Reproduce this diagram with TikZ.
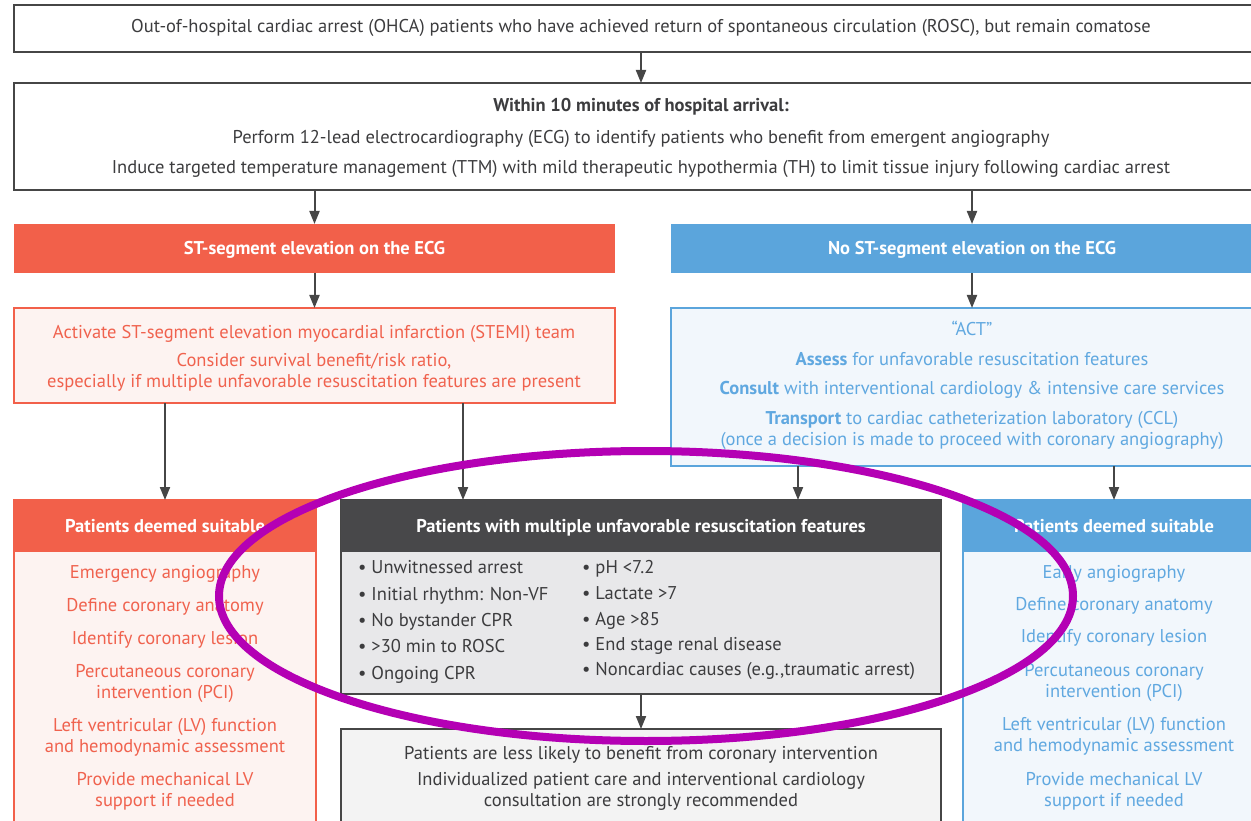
\documentclass[tikz,border=0pt]{standalone}
\usepackage{fontspec}
\setmainfont{PT Sans}
\usetikzlibrary{arrows.meta}

\definecolor{stred}{RGB}{242,96,74}
\definecolor{redtxt}{RGB}{240,98,78}
\definecolor{redbg}{RGB}{253,243,241}
\definecolor{noblue}{RGB}{91,165,220}
\definecolor{bluetxt}{RGB}{96,168,224}
\definecolor{bluebg}{RGB}{242,247,252}
\definecolor{darkhead}{RGB}{72,72,74}
\definecolor{graybg}{RGB}{232,232,234}
\definecolor{lessbg}{RGB}{243,243,243}
\definecolor{darktxt}{RGB}{60,60,62}
\definecolor{arrowgray}{RGB}{70,70,70}
\definecolor{ring}{RGB}{180,0,180}

\begin{document}
\begin{tikzpicture}[x=1pt,y=-1pt,
    box/.style={draw, anchor=north west, inner sep=0pt, outer sep=0pt, line width=1.5pt},
    head/.style={anchor=north west, inner sep=0pt, outer sep=0pt},
    txt/.style={anchor=mid, yshift=-4pt, inner sep=0pt, align=center, font=\fontsize{18.5}{21}\selectfont},
    two/.style={txt, anchor=center, yshift=2pt},
    headtxt/.style={txt, text=white, font=\fontsize{18.5}{21}\selectfont\bfseries},
    bul/.style={txt, anchor=mid west, text=darktxt},
    arr/.style={-{Triangle[length=13pt,width=10pt]}, line width=2pt, draw=arrowgray}]

\useasboundingbox (0,0) rectangle (1251,821);
\clip (0,0) rectangle (1251,821);

% Top boxes
\node[box, draw=arrowgray, minimum width=1254pt, minimum height=47pt] (ohca) at (14,5) {};
\node[box, draw=arrowgray, minimum width=1254pt, minimum height=107pt] (arrival) at (14,83) {};

% ECG split
\node[head, fill=stred, minimum width=601pt, minimum height=49pt] (stH) at (14,224) {};
\node[head, fill=noblue, minimum width=602pt, minimum height=49pt] (nostH) at (671,224) {};
\node[box, draw=stred, fill=redbg, minimum width=601pt, minimum height=95pt] (stemi) at (14,308) {};
\node[box, draw=noblue, fill=bluebg, minimum width=602pt, minimum height=158pt] (act) at (671,308) {};

% Lower boxes
\node[box, draw=stred, fill=redbg, minimum width=302pt, minimum height=340pt] (suitL) at (14,500) {};
\node[head, fill=stred, minimum width=302pt, minimum height=52pt] (suitLH) at (14,500) {};
\node[box, draw=arrowgray, fill=graybg, minimum width=600pt, minimum height=194pt] (risk) at (341,500) {};
\node[head, fill=darkhead, minimum width=600pt, minimum height=52pt] (riskH) at (341,500) {};
\node[box, draw=arrowgray, fill=lessbg, minimum width=600pt, minimum height=120pt] (less) at (341,729) {};
\node[box, draw=noblue, fill=bluebg, minimum width=302pt, minimum height=340pt] (suitR) at (963,500) {};
\node[head, fill=noblue, minimum width=302pt, minimum height=52pt] (suitRH) at (963,500) {};

% Texts
\node[txt, text=darktxt] (t1) at (641,26) {Out-of-hospital cardiac arrest (OHCA) patients who have achieved return of spontaneous circulation (ROSC), but remain comatose};
\node[txt, text=darktxt, font=\fontsize{18.5}{21}\selectfont\bfseries] (t2) at (641,105) {Within 10 minutes of hospital arrival:};
\node[txt, text=darktxt] (t3) at (641,137) {Perform 12-lead electrocardiography (ECG) to identify patients who benefit from emergent angiography};
\node[txt, text=darktxt] (t4) at (641,167) {Induce targeted temperature management (TTM) with mild therapeutic hypothermia (TH) to limit tissue injury following cardiac arrest};

\node[headtxt] (stHt) at (stH) {ST-segment elevation on the ECG};
\node[headtxt] (nostHt) at (nostH) {No ST-segment elevation on the ECG};

\node[txt, text=redtxt] (s1) at (314,332) {Activate ST-segment elevation myocardial infarction (STEMI) team};
\node[two, text=redtxt] (s2) at (314,370) {Consider survival benefit/risk ratio,\\especially if multiple unfavorable resuscitation features are present};

\node[txt, text=bluetxt] (a1) at (972,329) {``ACT''};
\node[txt, text=bluetxt] (a2) at (972,359) {\textbf{Assess} for unfavorable resuscitation features};
\node[txt, text=bluetxt] (a3) at (972,388) {\textbf{Consult} with interventional cardiology \& intensive care services};
\node[two, text=bluetxt] (a4) at (972,428) {\textbf{Transport} to cardiac catheterization laboratory (CCL)\\(once a decision is made to proceed with coronary angiography)};

\node[headtxt] (suitLt) at (suitLH) {Patients deemed suitable};
\node[txt, text=redtxt] (l1) at (165,572) {Emergency angiography};
\node[txt, text=redtxt] (l2) at (165,605) {Define coronary anatomy};
\node[txt, text=redtxt] (l3) at (165,638) {Identify coronary lesion};
\node[two, text=redtxt] (l4) at (165,681) {Percutaneous coronary\\intervention (PCI)};
\node[two, text=redtxt] (l5) at (165,735) {Left ventricular (LV) function\\and hemodynamic assessment};
\node[two, text=redtxt] (l6) at (165,789) {Provide mechanical LV\\support if needed};

\node[headtxt] (riskHt) at (riskH) {Patients with multiple unfavorable resuscitation features};
\node[bul] (b1) at (358,567) {\textbullet\ Unwitnessed arrest};
\node[bul] (b2) at (358,594) {\textbullet\ Initial rhythm: Non-VF};
\node[bul] (b3) at (358,620) {\textbullet\ No bystander CPR};
\node[bul] (b4) at (358,646) {\textbullet\ >30 min to ROSC};
\node[bul] (b5) at (358,673) {\textbullet\ Ongoing CPR};
\node[bul] (b6) at (582,567) {\textbullet\ pH <7.2};
\node[bul] (b7) at (582,593) {\textbullet\ Lactate >7};
\node[bul] (b8) at (582,619) {\textbullet\ Age >85};
\node[bul] (b9) at (582,644) {\textbullet\ End stage renal disease};
\node[bul] (b10) at (582,669) {\textbullet\ Noncardiac causes (e.g.,traumatic arrest)};

\node[txt, text=darktxt] (c1) at (641,753) {Patients are less likely to benefit from coronary intervention};
\node[two, text=darktxt] (c2) at (641,789) {Individualized patient care and interventional cardiology\\consultation are strongly recommended};

\node[headtxt] (suitRt) at (suitRH) {Patients deemed suitable};
\node[txt, text=bluetxt] (r1) at (1114,572) {Early angiography};
\node[txt, text=bluetxt] (r2) at (1114,604) {Define coronary anatomy};
\node[txt, text=bluetxt] (r3) at (1114,636) {Identify coronary lesion};
\node[two, text=bluetxt] (r4) at (1114,680) {Percutaneous coronary\\intervention (PCI)};
\node[two, text=bluetxt] (r5) at (1114,734) {Left ventricular (LV) function\\and hemodynamic assessment};
\node[two, text=bluetxt] (r6) at (1114,789) {Provide mechanical LV\\support if needed};

% Arrows
\coordinate (xa) at (463,0);
\coordinate (xb) at (798,0);
\draw[arr] (ohca.south) -- (arrival.north);
\draw[arr] (arrival.south -| stH.north) -- (stH.north);
\draw[arr] (arrival.south -| nostH.north) -- (nostH.north);
\draw[arr] (stH.south) -- (stemi.north);
\draw[arr] (nostH.south) -- (act.north);
\draw[arr] (stemi.south -| suitLH.north) -- (suitLH.north);
\draw[arr] (stemi.south -| xa) -- (riskH.north -| xa);
\draw[arr] (act.south -| xb) -- (riskH.north -| xb);
\draw[arr] (act.south -| suitRH.north) -- (suitRH.north);
\draw[arr] (risk.south) -- (less.north);

% Highlight ring
\draw[line width=8pt, draw=ring] (646,596) ellipse [x radius=427pt, y radius=145pt];
\end{tikzpicture}
\end{document}
